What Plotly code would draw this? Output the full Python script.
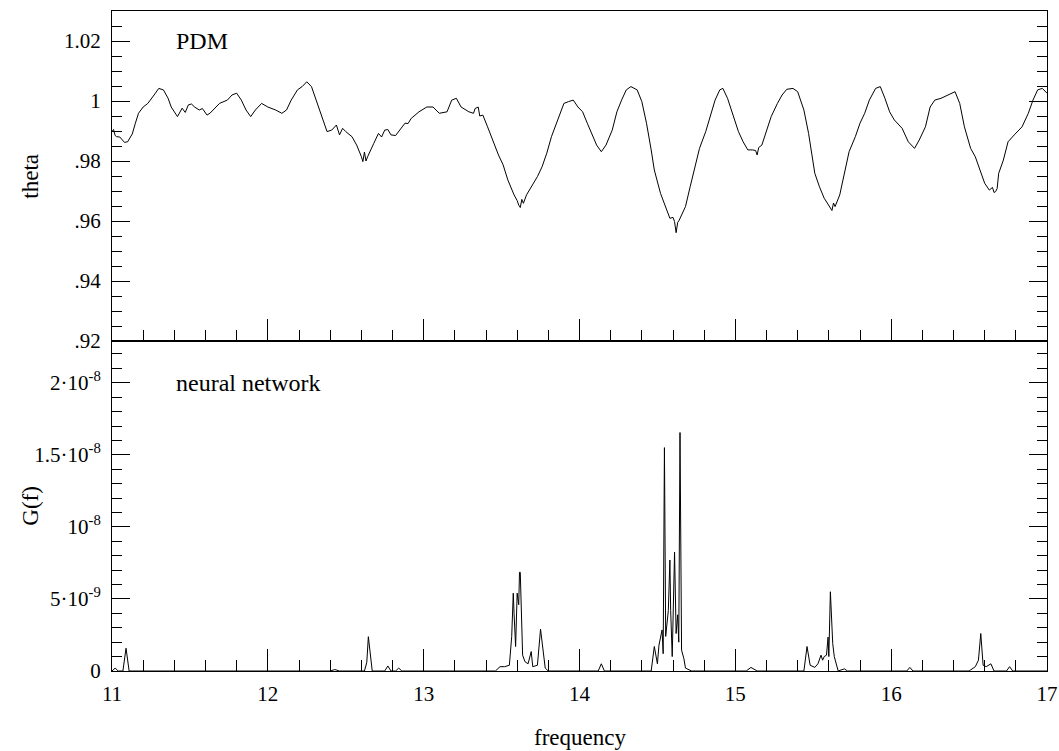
import plotly.graph_objects as go

# PDM theta statistic
pdm_freq = [11.00, 11.01, 11.02, 11.03, 11.05, 11.07, 11.08, 11.10, 11.13, 11.15,
            11.17, 11.20, 11.23, 11.27, 11.30, 11.33, 11.36, 11.38, 11.42, 11.45,
            11.47, 11.49, 11.51, 11.53, 11.56, 11.58, 11.61, 11.63, 11.65, 11.69,
            11.74, 11.77, 11.80, 11.83, 11.86, 11.89, 11.92, 11.96, 12.00, 12.05,
            12.09, 12.12, 12.15, 12.19, 12.22, 12.25, 12.28, 12.31, 12.35, 12.38,
            12.41, 12.44, 12.46, 12.48, 12.50, 12.54, 12.57, 12.59, 12.60, 12.61,
            12.62, 12.63, 12.64, 12.68, 12.71, 12.73, 12.75, 12.77, 12.79, 12.82,
            12.84, 12.86, 12.88, 12.90, 12.92, 12.97, 13.02, 13.06, 13.10, 13.15,
            13.18, 13.21, 13.24, 13.29, 13.32, 13.33, 13.35, 13.36, 13.38, 13.41,
            13.45, 13.48, 13.51, 13.54, 13.58, 13.60, 13.61, 13.62, 13.63, 13.64,
            13.66, 13.69, 13.73, 13.76, 13.79, 13.82, 13.86, 13.90, 13.93, 13.96,
            13.99, 14.02, 14.05, 14.08, 14.11, 14.14, 14.17, 14.21, 14.24, 14.27,
            14.30, 14.33, 14.37, 14.40, 14.43, 14.46, 14.48, 14.52, 14.55, 14.57,
            14.58, 14.60, 14.61, 14.62, 14.63, 14.64, 14.68, 14.71, 14.74, 14.77,
            14.81, 14.84, 14.87, 14.90, 14.92, 14.95, 14.99, 15.02, 15.05, 15.08,
            15.11, 15.13, 15.14, 15.15, 15.17, 15.20, 15.23, 15.27, 15.30, 15.33,
            15.37, 15.40, 15.44, 15.47, 15.51, 15.54, 15.57, 15.59, 15.61, 15.62,
            15.63, 15.64, 15.67, 15.70, 15.73, 15.77, 15.80, 15.83, 15.86, 15.90,
            15.93, 15.96, 15.99, 16.02, 16.07, 16.11, 16.15, 16.18, 16.22, 16.25,
            16.28, 16.32, 16.37, 16.41, 16.44, 16.47, 16.51, 16.54, 16.57, 16.60,
            16.63, 16.65, 16.66, 16.67, 16.68, 16.69, 16.72, 16.75, 16.79, 16.84,
            16.88, 16.91, 16.94, 16.97, 17.00]
pdm_theta = [0.9898, 0.9905, 0.9885, 0.9881, 0.9880, 0.9870, 0.9862, 0.9864, 0.9890, 0.9926,
             0.9959, 0.9980, 0.9992, 1.0020, 1.0042, 1.0037, 1.0009, 0.9980, 0.9948, 0.9976,
             0.9962, 0.9987, 0.9990, 0.9980, 0.9970, 0.9975, 0.9953, 0.9960, 0.9970, 0.9992,
             1.0003, 1.0020, 1.0026, 1.0003, 0.9970, 0.9948, 0.9970, 0.9992, 0.9980, 0.9970,
             0.9959, 0.9970, 1.0003, 1.0037, 1.0048, 1.0064, 1.0048, 1.0003, 0.9948, 0.9898,
             0.9903, 0.9920, 0.9887, 0.9909, 0.9898, 0.9881, 0.9853, 0.9831, 0.9815, 0.9798,
             0.9830, 0.9800, 0.9814, 0.9859, 0.9892, 0.9880, 0.9903, 0.9905, 0.9887, 0.9885,
             0.9898, 0.9915, 0.9926, 0.9925, 0.9942, 0.9964, 0.9980, 0.9980, 0.9959, 0.9964,
             1.0003, 1.0009, 0.9980, 0.9964, 0.9959, 0.9975, 0.9980, 0.9950, 0.9953, 0.9914,
             0.9859, 0.9820, 0.9787, 0.9737, 0.9687, 0.9668, 0.9653, 0.9645, 0.9672, 0.9659,
             0.9687, 0.9714, 0.9748, 0.9781, 0.9826, 0.9881, 0.9937, 0.9992, 0.9998, 1.0003,
             0.9980, 0.9964, 0.9926, 0.9892, 0.9853, 0.9831, 0.9853, 0.9903, 0.9964, 1.0003,
             1.0037, 1.0048, 1.0037, 0.9998, 0.9926, 0.9837, 0.9770, 0.9692, 0.9648, 0.9625,
             0.9609, 0.9612, 0.9598, 0.9561, 0.9595, 0.9603, 0.9648, 0.9714, 0.9781, 0.9842,
             0.9898, 0.9953, 1.0003, 1.0037, 1.0042, 1.0009, 0.9948, 0.9898, 0.9864, 0.9837,
             0.9837, 0.9835, 0.9820, 0.9845, 0.9853, 0.9903, 0.9948, 0.9992, 1.0020, 1.0039,
             1.0042, 1.0031, 0.9970, 0.9892, 0.9759, 0.9714, 0.9676, 0.9660, 0.9642, 0.9635,
             0.9660, 0.9648, 0.9687, 0.9759, 0.9831, 0.9881, 0.9926, 0.9959, 1.0003, 1.0042,
             1.0048, 1.0009, 0.9964, 0.9937, 0.9909, 0.9864, 0.9842, 0.9870, 0.9914, 0.9980,
             1.0003, 1.0009, 1.0020, 1.0031, 0.9992, 0.9914, 0.9842, 0.9814, 0.9770, 0.9726,
             0.9703, 0.9712, 0.9695, 0.9698, 0.9708, 0.9759, 0.9803, 0.9864, 0.9887, 0.9914,
             0.9959, 1.0003, 1.0037, 1.0042, 1.0026]

# neural network G(f), in units of 1e-9
nn_freq = [11.00, 11.02, 11.04, 11.07, 11.09, 11.11, 11.13, 12.40, 12.43, 12.46,
           12.62, 12.635, 12.645, 12.655, 12.67, 12.75, 12.77, 12.79, 12.82, 12.84, 12.86,
           13.46, 13.49, 13.52, 13.55, 13.565, 13.575, 13.58, 13.59, 13.60, 13.61, 13.615,
           13.62, 13.635, 13.65, 13.67, 13.69, 13.70, 13.73, 13.75, 13.76, 13.78, 13.80,
           14.12, 14.14, 14.16,
           14.46, 14.48, 14.50, 14.51, 14.53, 14.537, 14.545, 14.553, 14.57, 14.58, 14.585,
           14.595, 14.61, 14.62, 14.63, 14.637, 14.645, 14.655, 14.67, 14.68, 14.72,
           15.07, 15.10, 15.12, 15.14, 15.44, 15.46, 15.48, 15.51, 15.53, 15.55, 15.56,
           15.57, 15.585, 15.595, 15.60, 15.61, 15.625, 15.635, 15.66, 15.70, 15.72,
           16.10, 16.12, 16.14, 16.50, 16.52, 16.54, 16.56, 16.575, 16.59, 16.61, 16.64,
           16.66, 16.74, 16.76, 16.78, 17.00]
nn_g = [0.0, 0.2, 0.0, 0.0, 1.58, 0.0, 0.0, 0.0, 0.1, 0.0,
        0.0, 0.6, 2.38, 1.35, 0.0, 0.0, 0.35, 0.0, 0.0, 0.2, 0.0,
        0.0, 0.3, 0.3, 0.4, 2.4, 5.4, 4.0, 1.7, 5.4, 4.6, 6.85,
        6.85, 1.1, 0.65, 0.5, 1.35, 0.3, 0.4, 2.9, 2.05, 0.2, 0.0,
        0.0, 0.5, 0.0,
        0.0, 1.7, 0.5, 1.8, 2.85, 1.2, 15.5, 2.4, 4.2, 7.7, 4.2,
        1.0, 8.25, 2.6, 3.9, 2.0, 16.55, 1.45, 0.85, 0.2, 0.0,
        0.0, 0.25, 0.15, 0.0, 0.0, 1.7, 0.4, 0.25, 0.5, 1.1, 0.75,
        1.0, 1.1, 2.35, 1.0, 5.5, 1.9, 1.0, 0.0, 0.15, 0.0,
        0.0, 0.25, 0.0, 0.0, 0.15, 0.3, 0.75, 2.6, 0.4, 0.3, 0.5,
        0.0, 0.0, 0.3, 0.0, 0.0]
nn_g = [v * 1e-9 for v in nn_g]

font = "Liberation Serif, Times New Roman, serif"

fig = go.Figure()
fig.add_trace(go.Scatter(x=pdm_freq, y=pdm_theta, mode="lines",
                         line=dict(color="black", width=1), xaxis="x", yaxis="y"))
fig.add_trace(go.Scatter(x=nn_freq, y=nn_g, mode="lines",
                         line=dict(color="black", width=1), xaxis="x2", yaxis="y2"))

common_x = dict(range=[11, 17], showline=True, linecolor="black", linewidth=1,
                showgrid=False, zeroline=False, ticks="inside", ticklen=22,
                tickcolor="black", dtick=1, tick0=11, automargin=False,
                minor=dict(dtick=0.2, ticks="inside", ticklen=11, tickcolor="black"))

fig.update_layout(
    width=1059, height=751,
    margin=dict(l=112, r=12, t=11, b=80),
    paper_bgcolor="white", plot_bgcolor="white",
    showlegend=False,
    font=dict(family=font, size=21, color="black"),
    xaxis=dict(common_x, anchor="y", showticklabels=False, mirror=True),
    xaxis2=dict(common_x, anchor="y2", showticklabels=True, mirror=True,
                tickvals=[11, 12, 13, 14, 15, 16, 17], ticklabelstandoff=4),
    yaxis=dict(domain=[0.5, 1], range=[0.92, 1.03], showline=True, linecolor="black",
               linewidth=1, mirror="ticks", showgrid=False, zeroline=False,
               ticks="inside", ticklen=18, tickcolor="black", automargin=False,
               tickvals=[0.92, 0.94, 0.96, 0.98, 1.0, 1.02],
               ticktext=[".92", ".94", ".96", ".98", "1", "1.02"],
               ticklabelstandoff=6,
               minor=dict(dtick=0.005, tick0=0.92, ticks="inside", ticklen=10,
                          tickcolor="black")),
    yaxis2=dict(domain=[0, 0.5], range=[0, 2.29e-8], showline=True, linecolor="black",
                linewidth=1, mirror="ticks", showgrid=False, zeroline=False,
                ticks="inside", ticklen=18, tickcolor="black", automargin=False,
                tickvals=[0, 5e-9, 1e-8, 1.5e-8, 2e-8],
                ticktext=["0", "5·10<sup>-9</sup>", "10<sup>-8</sup>",
                          "1.5·10<sup>-8</sup>", "2·10<sup>-8</sup>"],
                ticklabelstandoff=6,
                minor=dict(dtick=1e-9, tick0=0, ticks="inside", ticklen=10,
                           tickcolor="black")),
    annotations=[
        dict(text="PDM", x=11.4, y=1.02, xref="x", yref="y", xanchor="left",
             yanchor="middle", showarrow=False, font=dict(size=24)),
        dict(text="neural network", x=11.4, y=2e-8, xref="x2", yref="y2",
             xanchor="left", yanchor="middle", showarrow=False, font=dict(size=24)),
        dict(text="theta", x=-0.088, y=0.75, xref="paper", yref="paper",
             xanchor="center", yanchor="middle",
             textangle=-90, showarrow=False, font=dict(size=23)),
        dict(text="G(f)", x=-0.088, y=0.25, xref="paper", yref="paper",
             xanchor="center", yanchor="middle",
             textangle=-90, showarrow=False, font=dict(size=23)),
        dict(text="frequency", x=0.5, y=-0.1, xref="paper", yref="paper",
             xanchor="center", yanchor="middle", showarrow=False, font=dict(size=23)),
    ],
)

# drop the browser's default body margin so the figure fills the window exactly
fig.write_html("out.html", config={"displayModeBar": False},
               post_script="document.body.style.margin='0';")
